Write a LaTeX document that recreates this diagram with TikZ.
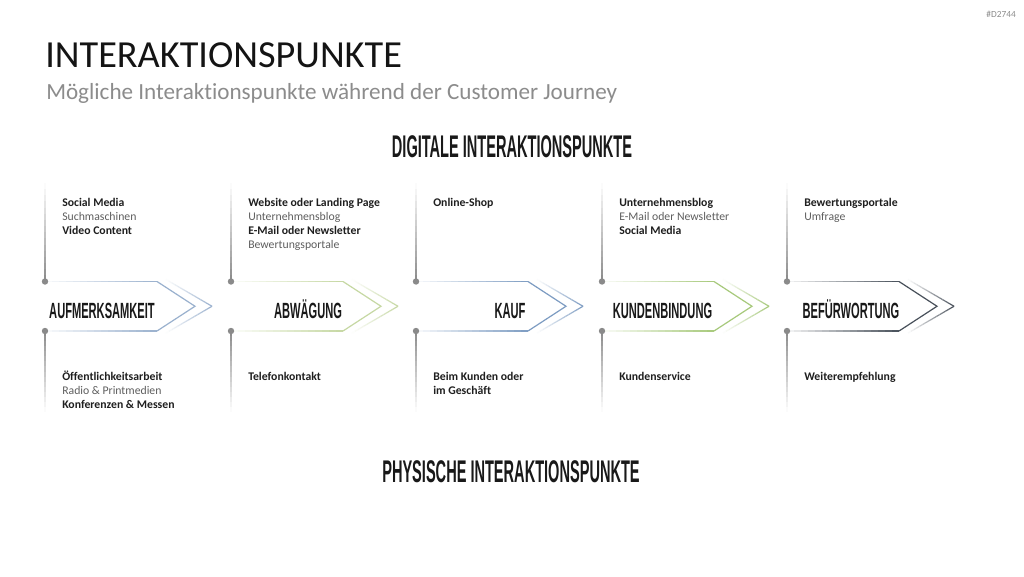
\documentclass[tikz,border=0pt]{standalone}
\usepackage{fontspec}
\setmainfont[Ligatures=NoCommon]{Carlito}
\newfontfamily\bebas[FakeStretch=0.505]{Liberation Sans}
\newfontfamily\bebash[FakeStretch=0.465]{Liberation Sans}
\usetikzlibrary{calc}
\definecolor{cA}{HTML}{9AB1CE}
\definecolor{cB}{HTML}{C6D8A3}
\definecolor{cC}{HTML}{7D9CC2}
\definecolor{cD}{HTML}{A7C97B}
\definecolor{cE}{HTML}{48505A}
\definecolor{vline}{HTML}{8A8A8A}
\definecolor{txtgray}{HTML}{5E5E5E}
\definecolor{subgray}{HTML}{8C8C8C}
\newcommand\gline[6]{% start, end, colour, start pct, end pct, width
  \foreach \k in {1,...,16}{%
    \pgfmathsetmacro\ta{(\k-1)/16}%
    \pgfmathsetmacro\tb{\k/16}%
    \pgfmathsetmacro\mx{#4+(#5-#4)*(\k-0.5)/16}%
    \draw[line width=#6, color=#3!\mx!white] ($#1!\ta!#2$) -- ($#1!\tb!#2$);
  }}
\newcommand\stage[3]{% x0, colour, name
  \gline{(#1,281.5)}{(#1+112,281.5)}{#2}{5}{100}{0.9pt}
  \gline{(#1,331)}{(#1+112,331)}{#2}{5}{100}{0.9pt}
  \draw[line width=0.9pt, color=#2, line join=miter] (#1+112,281.5) -- (#1+150,306.25) -- (#1+112,331);
  \gline{(#1+121,279.5)}{(#1+167,306.25)}{#2}{0}{100}{0.9pt}
  \gline{(#1+167,306.25)}{(#1+121,333)}{#2}{100}{0}{0.9pt}
  \gline{(#1,183)}{(#1,281.5)}{vline}{0}{100}{1pt}
  \gline{(#1,331)}{(#1,412)}{vline}{100}{0}{1pt}
  \fill[vline] (#1,281.5) circle[radius=3.2] (#1,331) circle[radius=3.2];
}
\tikzset{
  stagelbl/.style={anchor=base, inner sep=0pt, font=\bebas\bfseries\fontsize{16.5}{17}\selectfont, text=black!90},
  itb/.style={anchor=base west, inner sep=0pt, font=\bfseries\fontsize{8.8}{10}\selectfont, text=black!88},
  itr/.style={anchor=base west, inner sep=0pt, font=\fontsize{8.8}{10}\selectfont, text=txtgray},
  heading/.style={anchor=base, inner sep=0pt, font=\bebash\bfseries\fontsize{23.5}{24}\selectfont, text=black!90}
}
\begin{document}
\begin{tikzpicture}[x=0.75pt,y=-0.75pt]
\useasboundingbox (0,0) rectangle (1024,576);
\fill[white] (0,0) rectangle (1024,576);
% header
\node[anchor=base east, inner sep=0pt, font=\fontsize{7}{8}\selectfont, text=subgray] (code) at (1016,17) {\#D2744};
\node[anchor=base west, inner sep=0pt, font=\fontsize{28.7}{30}\selectfont, text=black!92] (title) at (45,67) {INTERAKTIONSPUNKTE};
\node[anchor=base west, inner sep=0pt, font=\fontsize{17.35}{20}\selectfont, text=subgray] (subtitle) at (46,99) {Mögliche Interaktionspunkte während der Customer Journey};
\node[heading] (hdig) at (512,157) {DIGITALE INTERAKTIONSPUNKTE};
\node[heading] (hphys) at (511,482) {PHYSISCHE INTERAKTIONSPUNKTE};
% stages
\stage{45}{cA}{s1}
\stage{231}{cB}{s2}
\stage{416}{cC}{s3}
\stage{602}{cD}{s4}
\stage{787}{cE}{s5}
\node[stagelbl] (l1) at (102,318) {AUFMERKSAMKEIT};
\node[stagelbl] (l2) at (308,318) {ABWÄGUNG};
\node[stagelbl] (l3) at (510,318) {KAUF};
\node[stagelbl] (l4) at (662.5,318) {KUNDENBINDUNG};
\node[stagelbl] (l5) at (851,318) {BEFÜRWORTUNG};
% top items
\node[itb] (t11) at (62,206) {Social Media};
\node[itr] (t12) at (62,220) {Suchmaschinen};
\node[itb] (t13) at (62,234) {Video Content};
\node[itb] (t21) at (248,206) {Website oder Landing Page};
\node[itr] (t22) at (248,220) {Unternehmensblog};
\node[itb] (t23) at (248,234) {E-Mail oder Newsletter};
\node[itr] (t24) at (248,248) {Bewertungsportale};
\node[itb] (t31) at (433,206) {Online-Shop};
\node[itb] (t41) at (619,206) {Unternehmensblog};
\node[itr] (t42) at (619,220) {E-Mail oder Newsletter};
\node[itb] (t43) at (619,234) {Social Media};
\node[itb] (t51) at (804,206) {Bewertungsportale};
\node[itr] (t52) at (804,220) {Umfrage};
% bottom items
\node[itb] (b11) at (62,380) {Öffentlichkeitsarbeit};
\node[itr] (b12) at (62,394) {Radio \& Printmedien};
\node[itb] (b13) at (62,408) {Konferenzen \& Messen};
\node[itb] (b21) at (248,380) {Telefonkontakt};
\node[itb] (b31) at (433,380) {Beim Kunden oder};
\node[itb] (b32) at (433,394) {im Geschäft};
\node[itb] (b41) at (619,380) {Kundenservice};
\node[itb] (b51) at (804,380) {Weiterempfehlung};
\end{tikzpicture}
\end{document}
